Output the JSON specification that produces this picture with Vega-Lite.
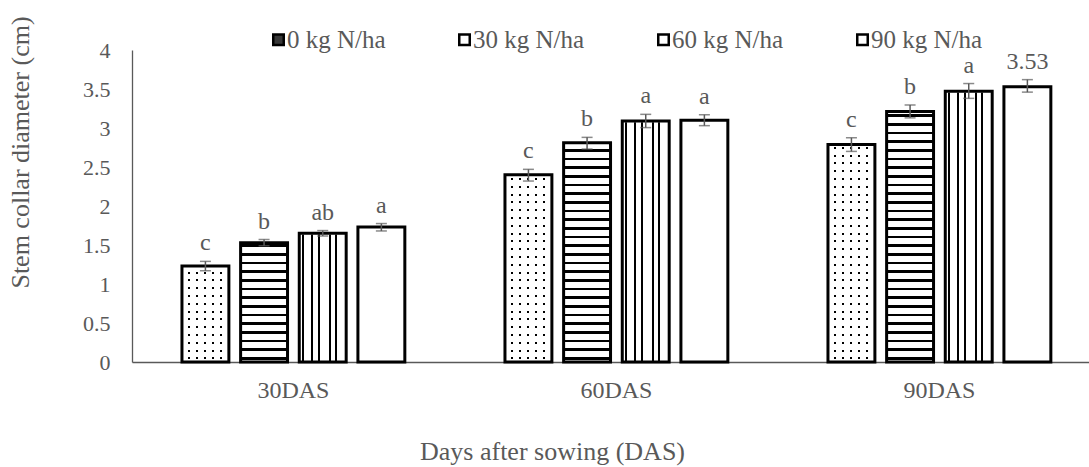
{
"$schema": "https://vega.github.io/schema/vega-lite/v6.json",
"width": 957, "height": 312,
"autosize": {"type": "none"},
"padding": {"left": 132, "top": 50, "right": 0, "bottom": 105},
"background": "white",
"config": {"view": {"stroke": null}, "font": "Liberation Serif", "legend": {"labelFont": "Liberation Serif"},
 "axisY": {"grid": false, "ticks": false, "tickSize": 0, "domain": true, "domainColor": "#595959", "domainWidth": 1.3,
  "labelFont": "Liberation Serif", "labelFontSize": 22, "labelColor": "#595959", "labelPadding": 22, "labelOverlap": false,
  "titleFont": "Liberation Serif", "titleFontSize": 26, "titleFontWeight": "normal", "titleColor": "#595959"}},
"data": {"values": [
{"das":"30DAS","n":"0 kg N/ha","v":1.23,"lo":1.17,"hi":1.29,"lab":"c"},
{"das":"30DAS","n":"30 kg N/ha","v":1.53,"lo":1.49,"hi":1.57,"lab":"b"},
{"das":"30DAS","n":"60 kg N/ha","v":1.65,"lo":1.615,"hi":1.685,"lab":"ab"},
{"das":"30DAS","n":"90 kg N/ha","v":1.73,"lo":1.68,"hi":1.775,"lab":"a"},
{"das":"60DAS","n":"0 kg N/ha","v":2.40,"lo":2.32,"hi":2.47,"lab":"c"},
{"das":"60DAS","n":"30 kg N/ha","v":2.81,"lo":2.73,"hi":2.88,"lab":"b"},
{"das":"60DAS","n":"60 kg N/ha","v":3.09,"lo":3.005,"hi":3.175,"lab":"a"},
{"das":"60DAS","n":"90 kg N/ha","v":3.10,"lo":3.03,"hi":3.17,"lab":"a"},
{"das":"90DAS","n":"0 kg N/ha","v":2.79,"lo":2.70,"hi":2.875,"lab":"c"},
{"das":"90DAS","n":"30 kg N/ha","v":3.21,"lo":3.13,"hi":3.295,"lab":"b"},
{"das":"90DAS","n":"60 kg N/ha","v":3.47,"lo":3.38,"hi":3.57,"lab":"a"},
{"das":"90DAS","n":"90 kg N/ha","v":3.53,"lo":3.46,"hi":3.62,"lab":"3.53"}
]},
"encoding": {
 "x": {"field": "das", "type": "nominal",
  "scale": {"paddingInner": 0.31, "paddingOuter": 0.1364, "align": 0.567},
  "axis": {"title": "Days after sowing (DAS)", "labelAngle": 0, "ticks": false, "tickSize": 0,
   "domainColor": "#595959", "domainWidth": 1.3,
   "labelFont": "Liberation Serif", "labelFontSize": 24, "labelColor": "#595959", "labelPadding": 16,
   "titleFont": "Liberation Serif", "titleFontSize": 26, "titleFontWeight": "normal", "titleColor": "#595959",
   "titleX": 420, "titleY": 97, "titleBaseline": "alphabetic", "titleAlign": "center"}},
 "xOffset": {"field": "n", "type": "nominal", "scale": {"paddingInner": 0.2, "paddingOuter": 0}}
},
"layer": [
 {"transform": [{"filter": "datum.n === '0 kg N/ha'"}],
  "mark": {"type": "bar", "fill": {"gradient": "linear", "x1": 0, "y1": 0, "x2": 0, "y2": 1, "stops": [
   {"offset":0.01,"color":"#fff"},{"offset":0.01,"color":"#000"},{"offset":0.0164,"color":"#000"},{"offset":0.0164,"color":"#fff"},
   {"offset":0.035,"color":"#fff"},{"offset":0.035,"color":"#000"},{"offset":0.0414,"color":"#000"},{"offset":0.0414,"color":"#fff"},
   {"offset":0.06,"color":"#fff"},{"offset":0.06,"color":"#000"},{"offset":0.0664,"color":"#000"},{"offset":0.0664,"color":"#fff"},
   {"offset":0.085,"color":"#fff"},{"offset":0.085,"color":"#000"},{"offset":0.0914,"color":"#000"},{"offset":0.0914,"color":"#fff"},
   {"offset":0.11,"color":"#fff"},{"offset":0.11,"color":"#000"},{"offset":0.1164,"color":"#000"},{"offset":0.1164,"color":"#fff"},
   {"offset":0.135,"color":"#fff"},{"offset":0.135,"color":"#000"},{"offset":0.1414,"color":"#000"},{"offset":0.1414,"color":"#fff"},
   {"offset":0.16,"color":"#fff"},{"offset":0.16,"color":"#000"},{"offset":0.1664,"color":"#000"},{"offset":0.1664,"color":"#fff"},
   {"offset":0.185,"color":"#fff"},{"offset":0.185,"color":"#000"},{"offset":0.1914,"color":"#000"},{"offset":0.1914,"color":"#fff"},
   {"offset":0.21,"color":"#fff"},{"offset":0.21,"color":"#000"},{"offset":0.2164,"color":"#000"},{"offset":0.2164,"color":"#fff"},
   {"offset":0.235,"color":"#fff"},{"offset":0.235,"color":"#000"},{"offset":0.2414,"color":"#000"},{"offset":0.2414,"color":"#fff"},
   {"offset":0.26,"color":"#fff"},{"offset":0.26,"color":"#000"},{"offset":0.2664,"color":"#000"},{"offset":0.2664,"color":"#fff"},
   {"offset":0.285,"color":"#fff"},{"offset":0.285,"color":"#000"},{"offset":0.2914,"color":"#000"},{"offset":0.2914,"color":"#fff"},
   {"offset":0.31,"color":"#fff"},{"offset":0.31,"color":"#000"},{"offset":0.3164,"color":"#000"},{"offset":0.3164,"color":"#fff"},
   {"offset":0.335,"color":"#fff"},{"offset":0.335,"color":"#000"},{"offset":0.3414,"color":"#000"},{"offset":0.3414,"color":"#fff"},
   {"offset":0.36,"color":"#fff"},{"offset":0.36,"color":"#000"},{"offset":0.3664,"color":"#000"},{"offset":0.3664,"color":"#fff"},
   {"offset":0.385,"color":"#fff"},{"offset":0.385,"color":"#000"},{"offset":0.3914,"color":"#000"},{"offset":0.3914,"color":"#fff"},
   {"offset":0.41,"color":"#fff"},{"offset":0.41,"color":"#000"},{"offset":0.4164,"color":"#000"},{"offset":0.4164,"color":"#fff"},
   {"offset":0.435,"color":"#fff"},{"offset":0.435,"color":"#000"},{"offset":0.4414,"color":"#000"},{"offset":0.4414,"color":"#fff"},
   {"offset":0.46,"color":"#fff"},{"offset":0.46,"color":"#000"},{"offset":0.4664,"color":"#000"},{"offset":0.4664,"color":"#fff"},
   {"offset":0.485,"color":"#fff"},{"offset":0.485,"color":"#000"},{"offset":0.4914,"color":"#000"},{"offset":0.4914,"color":"#fff"},
   {"offset":0.51,"color":"#fff"},{"offset":0.51,"color":"#000"},{"offset":0.5164,"color":"#000"},{"offset":0.5164,"color":"#fff"},
   {"offset":0.535,"color":"#fff"},{"offset":0.535,"color":"#000"},{"offset":0.5414,"color":"#000"},{"offset":0.5414,"color":"#fff"},
   {"offset":0.56,"color":"#fff"},{"offset":0.56,"color":"#000"},{"offset":0.5664,"color":"#000"},{"offset":0.5664,"color":"#fff"},
   {"offset":0.585,"color":"#fff"},{"offset":0.585,"color":"#000"},{"offset":0.5914,"color":"#000"},{"offset":0.5914,"color":"#fff"},
   {"offset":0.61,"color":"#fff"},{"offset":0.61,"color":"#000"},{"offset":0.6164,"color":"#000"},{"offset":0.6164,"color":"#fff"},
   {"offset":0.635,"color":"#fff"},{"offset":0.635,"color":"#000"},{"offset":0.6414,"color":"#000"},{"offset":0.6414,"color":"#fff"},
   {"offset":0.66,"color":"#fff"},{"offset":0.66,"color":"#000"},{"offset":0.6664,"color":"#000"},{"offset":0.6664,"color":"#fff"},
   {"offset":0.685,"color":"#fff"},{"offset":0.685,"color":"#000"},{"offset":0.6914,"color":"#000"},{"offset":0.6914,"color":"#fff"},
   {"offset":0.71,"color":"#fff"},{"offset":0.71,"color":"#000"},{"offset":0.7164,"color":"#000"},{"offset":0.7164,"color":"#fff"},
   {"offset":0.735,"color":"#fff"},{"offset":0.735,"color":"#000"},{"offset":0.7414,"color":"#000"},{"offset":0.7414,"color":"#fff"},
   {"offset":0.76,"color":"#fff"},{"offset":0.76,"color":"#000"},{"offset":0.7664,"color":"#000"},{"offset":0.7664,"color":"#fff"},
   {"offset":0.785,"color":"#fff"},{"offset":0.785,"color":"#000"},{"offset":0.7914,"color":"#000"},{"offset":0.7914,"color":"#fff"},
   {"offset":0.81,"color":"#fff"},{"offset":0.81,"color":"#000"},{"offset":0.8164,"color":"#000"},{"offset":0.8164,"color":"#fff"},
   {"offset":0.835,"color":"#fff"},{"offset":0.835,"color":"#000"},{"offset":0.8414,"color":"#000"},{"offset":0.8414,"color":"#fff"},
   {"offset":0.86,"color":"#fff"},{"offset":0.86,"color":"#000"},{"offset":0.8664,"color":"#000"},{"offset":0.8664,"color":"#fff"},
   {"offset":0.885,"color":"#fff"},{"offset":0.885,"color":"#000"},{"offset":0.8914,"color":"#000"},{"offset":0.8914,"color":"#fff"},
   {"offset":0.91,"color":"#fff"},{"offset":0.91,"color":"#000"},{"offset":0.9164,"color":"#000"},{"offset":0.9164,"color":"#fff"},
   {"offset":0.935,"color":"#fff"},{"offset":0.935,"color":"#000"},{"offset":0.9414,"color":"#000"},{"offset":0.9414,"color":"#fff"},
   {"offset":0.96,"color":"#fff"},{"offset":0.96,"color":"#000"},{"offset":0.9664,"color":"#000"},{"offset":0.9664,"color":"#fff"},
   {"offset":0.985,"color":"#fff"},{"offset":0.985,"color":"#000"},{"offset":0.9914,"color":"#000"},{"offset":0.9914,"color":"#fff"}
  ]}},
  "encoding": {"y": {"datum": 4, "type": "quantitative", "axis": {"values": [0, 0.5, 1, 1.5, 2, 2.5, 3, 3.5, 4], "format": "~g", "labelOverlap": false}}, "y2": {"datum": 0}}},
 {"transform": [{"filter": "datum.n === '0 kg N/ha'"}],
  "mark": {"type": "bar", "fill": {"gradient": "linear", "x1": 0, "y1": 0, "x2": 1, "y2": 0, "stops": [
   {"offset":0,"color":"#fff"},
   {"offset":0.1277,"color":"#fff"},{"offset":0.1277,"color":"rgba(255,255,255,0)"},{"offset":0.1702,"color":"rgba(255,255,255,0)"},{"offset":0.1702,"color":"#fff"},
   {"offset":0.2979,"color":"#fff"},{"offset":0.2979,"color":"rgba(255,255,255,0)"},{"offset":0.3404,"color":"rgba(255,255,255,0)"},{"offset":0.3404,"color":"#fff"},
   {"offset":0.4681,"color":"#fff"},{"offset":0.4681,"color":"rgba(255,255,255,0)"},{"offset":0.5106,"color":"rgba(255,255,255,0)"},{"offset":0.5106,"color":"#fff"},
   {"offset":0.6383,"color":"#fff"},{"offset":0.6383,"color":"rgba(255,255,255,0)"},{"offset":0.6809,"color":"rgba(255,255,255,0)"},{"offset":0.6809,"color":"#fff"},
   {"offset":0.8085,"color":"#fff"},{"offset":0.8085,"color":"rgba(255,255,255,0)"},{"offset":0.8511,"color":"rgba(255,255,255,0)"},{"offset":0.8511,"color":"#fff"},
   {"offset":1,"color":"#fff"}
  ]}},
  "encoding": {"y": {"datum": 4, "type": "quantitative", "axis": {"values": [0, 0.5, 1, 1.5, 2, 2.5, 3, 3.5, 4], "format": "~g", "labelOverlap": false}}, "y2": {"datum": 0}}},
 {"transform": [{"filter": "datum.n === '30 kg N/ha'"}],
  "mark": {"type": "bar", "fill": {"gradient": "linear", "x1": 0, "y1": 0, "x2": 0, "y2": 1, "stops": [
   {"offset":0.012,"color":"#fff"},{"offset":0.012,"color":"#000"},{"offset":0.0203,"color":"#000"},{"offset":0.0203,"color":"#fff"},
   {"offset":0.0398,"color":"#fff"},{"offset":0.0398,"color":"#000"},{"offset":0.0481,"color":"#000"},{"offset":0.0481,"color":"#fff"},
   {"offset":0.0676,"color":"#fff"},{"offset":0.0676,"color":"#000"},{"offset":0.0759,"color":"#000"},{"offset":0.0759,"color":"#fff"},
   {"offset":0.0953,"color":"#fff"},{"offset":0.0953,"color":"#000"},{"offset":0.1036,"color":"#000"},{"offset":0.1036,"color":"#fff"},
   {"offset":0.1231,"color":"#fff"},{"offset":0.1231,"color":"#000"},{"offset":0.1314,"color":"#000"},{"offset":0.1314,"color":"#fff"},
   {"offset":0.1509,"color":"#fff"},{"offset":0.1509,"color":"#000"},{"offset":0.1592,"color":"#000"},{"offset":0.1592,"color":"#fff"},
   {"offset":0.1787,"color":"#fff"},{"offset":0.1787,"color":"#000"},{"offset":0.1870,"color":"#000"},{"offset":0.1870,"color":"#fff"},
   {"offset":0.2064,"color":"#fff"},{"offset":0.2064,"color":"#000"},{"offset":0.2147,"color":"#000"},{"offset":0.2147,"color":"#fff"},
   {"offset":0.2342,"color":"#fff"},{"offset":0.2342,"color":"#000"},{"offset":0.2425,"color":"#000"},{"offset":0.2425,"color":"#fff"},
   {"offset":0.2620,"color":"#fff"},{"offset":0.2620,"color":"#000"},{"offset":0.2703,"color":"#000"},{"offset":0.2703,"color":"#fff"},
   {"offset":0.2898,"color":"#fff"},{"offset":0.2898,"color":"#000"},{"offset":0.2981,"color":"#000"},{"offset":0.2981,"color":"#fff"},
   {"offset":0.3176,"color":"#fff"},{"offset":0.3176,"color":"#000"},{"offset":0.3259,"color":"#000"},{"offset":0.3259,"color":"#fff"},
   {"offset":0.3453,"color":"#fff"},{"offset":0.3453,"color":"#000"},{"offset":0.3536,"color":"#000"},{"offset":0.3536,"color":"#fff"},
   {"offset":0.3731,"color":"#fff"},{"offset":0.3731,"color":"#000"},{"offset":0.3814,"color":"#000"},{"offset":0.3814,"color":"#fff"},
   {"offset":0.4009,"color":"#fff"},{"offset":0.4009,"color":"#000"},{"offset":0.4092,"color":"#000"},{"offset":0.4092,"color":"#fff"},
   {"offset":0.4287,"color":"#fff"},{"offset":0.4287,"color":"#000"},{"offset":0.4370,"color":"#000"},{"offset":0.4370,"color":"#fff"},
   {"offset":0.4564,"color":"#fff"},{"offset":0.4564,"color":"#000"},{"offset":0.4647,"color":"#000"},{"offset":0.4647,"color":"#fff"},
   {"offset":0.4842,"color":"#fff"},{"offset":0.4842,"color":"#000"},{"offset":0.4925,"color":"#000"},{"offset":0.4925,"color":"#fff"},
   {"offset":0.5120,"color":"#fff"},{"offset":0.5120,"color":"#000"},{"offset":0.5203,"color":"#000"},{"offset":0.5203,"color":"#fff"},
   {"offset":0.5398,"color":"#fff"},{"offset":0.5398,"color":"#000"},{"offset":0.5481,"color":"#000"},{"offset":0.5481,"color":"#fff"},
   {"offset":0.5676,"color":"#fff"},{"offset":0.5676,"color":"#000"},{"offset":0.5759,"color":"#000"},{"offset":0.5759,"color":"#fff"},
   {"offset":0.5953,"color":"#fff"},{"offset":0.5953,"color":"#000"},{"offset":0.6036,"color":"#000"},{"offset":0.6036,"color":"#fff"},
   {"offset":0.6231,"color":"#fff"},{"offset":0.6231,"color":"#000"},{"offset":0.6314,"color":"#000"},{"offset":0.6314,"color":"#fff"},
   {"offset":0.6509,"color":"#fff"},{"offset":0.6509,"color":"#000"},{"offset":0.6592,"color":"#000"},{"offset":0.6592,"color":"#fff"},
   {"offset":0.6787,"color":"#fff"},{"offset":0.6787,"color":"#000"},{"offset":0.6870,"color":"#000"},{"offset":0.6870,"color":"#fff"},
   {"offset":0.7064,"color":"#fff"},{"offset":0.7064,"color":"#000"},{"offset":0.7147,"color":"#000"},{"offset":0.7147,"color":"#fff"},
   {"offset":0.7342,"color":"#fff"},{"offset":0.7342,"color":"#000"},{"offset":0.7425,"color":"#000"},{"offset":0.7425,"color":"#fff"},
   {"offset":0.7620,"color":"#fff"},{"offset":0.7620,"color":"#000"},{"offset":0.7703,"color":"#000"},{"offset":0.7703,"color":"#fff"},
   {"offset":0.7898,"color":"#fff"},{"offset":0.7898,"color":"#000"},{"offset":0.7981,"color":"#000"},{"offset":0.7981,"color":"#fff"},
   {"offset":0.8176,"color":"#fff"},{"offset":0.8176,"color":"#000"},{"offset":0.8259,"color":"#000"},{"offset":0.8259,"color":"#fff"},
   {"offset":0.8453,"color":"#fff"},{"offset":0.8453,"color":"#000"},{"offset":0.8536,"color":"#000"},{"offset":0.8536,"color":"#fff"},
   {"offset":0.8731,"color":"#fff"},{"offset":0.8731,"color":"#000"},{"offset":0.8814,"color":"#000"},{"offset":0.8814,"color":"#fff"},
   {"offset":0.9009,"color":"#fff"},{"offset":0.9009,"color":"#000"},{"offset":0.9092,"color":"#000"},{"offset":0.9092,"color":"#fff"},
   {"offset":0.9287,"color":"#fff"},{"offset":0.9287,"color":"#000"},{"offset":0.9370,"color":"#000"},{"offset":0.9370,"color":"#fff"},
   {"offset":0.9564,"color":"#fff"},{"offset":0.9564,"color":"#000"},{"offset":0.9647,"color":"#000"},{"offset":0.9647,"color":"#fff"},
   {"offset":0.9842,"color":"#fff"},{"offset":0.9842,"color":"#000"},{"offset":0.9925,"color":"#000"},{"offset":0.9925,"color":"#fff"}
  ]}},
  "encoding": {"y": {"datum": 4, "type": "quantitative", "axis": {"values": [0, 0.5, 1, 1.5, 2, 2.5, 3, 3.5, 4], "format": "~g", "labelOverlap": false}}, "y2": {"datum": 0}}},
 {"transform": [{"filter": "datum.n === '60 kg N/ha'"}],
  "mark": {"type": "bar", "fill": {"gradient": "linear", "x1": 0, "y1": 0, "x2": 1, "y2": 0, "stops": [
   {"offset":0.0638,"color":"#fff"},{"offset":0.0638,"color":"#000"},{"offset":0.1064,"color":"#000"},{"offset":0.1064,"color":"#fff"},
   {"offset":0.2553,"color":"#fff"},{"offset":0.2553,"color":"#000"},{"offset":0.2979,"color":"#000"},{"offset":0.2979,"color":"#fff"},
   {"offset":0.3936,"color":"#fff"},{"offset":0.3936,"color":"#000"},{"offset":0.4362,"color":"#000"},{"offset":0.4362,"color":"#fff"},
   {"offset":0.6277,"color":"#fff"},{"offset":0.6277,"color":"#000"},{"offset":0.6702,"color":"#000"},{"offset":0.6702,"color":"#fff"},
   {"offset":0.7660,"color":"#fff"},{"offset":0.7660,"color":"#000"},{"offset":0.8085,"color":"#000"},{"offset":0.8085,"color":"#fff"}
  ]}},
  "encoding": {"y": {"datum": 4, "type": "quantitative", "axis": {"values": [0, 0.5, 1, 1.5, 2, 2.5, 3, 3.5, 4], "format": "~g", "labelOverlap": false}}, "y2": {"datum": 0}}},
 {"mark": {"type": "bar", "fill": "#ffffff", "stroke": "#ffffff", "strokeWidth": 2.5},
  "encoding": {
   "y": {"field": "v", "type": "quantitative", "axis": {"values": [0, 0.5, 1, 1.5, 2, 2.5, 3, 3.5, 4], "format": "~g", "labelOverlap": false}},
   "y2": {"datum": 4}
  }},
 {"mark": {"type": "bar", "strokeWidth": 0},
  "encoding": {
   "y": {"datum": 0, "type": "quantitative", "axis": {"values": [0, 0.5, 1, 1.5, 2, 2.5, 3, 3.5, 4], "format": "~g", "labelOverlap": false}},
   "y2": {"datum": 0},
   "fill": {"field": "n", "type": "nominal",
    "scale": {"range": ["#383838", "#ffffff", "#ffffff", "#ffffff"]},
    "legend": {"orient": "none", "legendX": 134, "legendY": -23, "direction": "horizontal", "title": null,
     "symbolType": "square", "symbolSize": 110, "symbolStrokeColor": "#000", "symbolStrokeWidth": 2.5,
     "labelFont": "Liberation Serif", "labelFontSize": 25, "labelColor": "#595959", "labelOffset": -4,
     "columnPadding": 66, "labelLimit": 0, "padding": 0,
     "encode": {"symbols": {"update": {
      "stroke": {"value": "#000"},
      "strokeWidth": {"value": 2.5}
     }}}}}
  }},
 {"mark": {"type": "bar", "fill": "transparent", "stroke": "#000", "strokeWidth": 3},
  "encoding": {
   "y": {"field": "v", "type": "quantitative", "scale": {"domain": [0, 4], "nice": false},
    "axis": {"title": "Stem collar diameter (cm)", "values": [0, 0.5, 1, 1.5, 2, 2.5, 3, 3.5, 4], "format": "~g", "labelOverlap": false,
     "titleX": -104, "titleY": 102, "titleBaseline": "alphabetic", "titleAngle": -90, "titleAlign": "center"}}
  }},
 {"mark": {"type": "rule", "color": "#595959", "strokeWidth": 1.5},
  "encoding": {"y": {"field": "lo", "type": "quantitative", "axis": {"values": [0, 0.5, 1, 1.5, 2, 2.5, 3, 3.5, 4], "format": "~g", "labelOverlap": false}}, "y2": {"field": "hi"}}},
 {"mark": {"type": "tick", "orient": "horizontal", "size": 11, "thickness": 1.5, "color": "#595959"},
  "encoding": {"y": {"field": "lo", "type": "quantitative", "axis": {"values": [0, 0.5, 1, 1.5, 2, 2.5, 3, 3.5, 4], "format": "~g", "labelOverlap": false}}}},
 {"mark": {"type": "tick", "orient": "horizontal", "size": 11, "thickness": 1.5, "color": "#595959"},
  "encoding": {"y": {"field": "hi", "type": "quantitative", "axis": {"values": [0, 0.5, 1, 1.5, 2, 2.5, 3, 3.5, 4], "format": "~g", "labelOverlap": false}}}},
 {"mark": {"type": "text", "baseline": "alphabetic", "dy": -11, "font": "Liberation Serif", "fontSize": 24, "color": "#595959"},
  "encoding": {"y": {"field": "hi", "type": "quantitative", "axis": {"values": [0, 0.5, 1, 1.5, 2, 2.5, 3, 3.5, 4], "format": "~g", "labelOverlap": false}}, "text": {"field": "lab"}}}
]
}
